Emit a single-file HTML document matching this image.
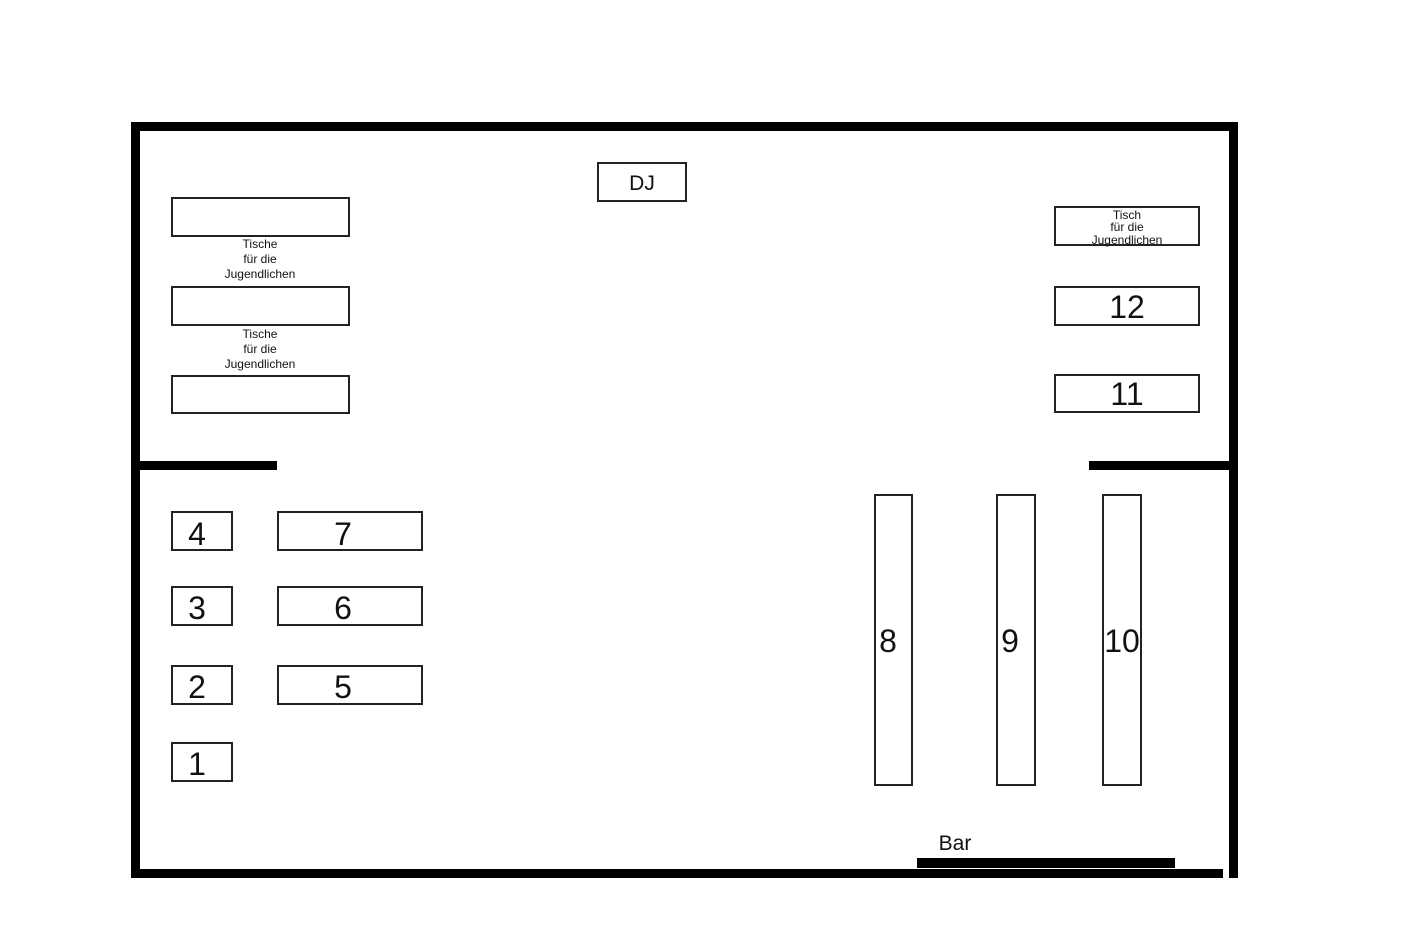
<!DOCTYPE html>
<html><head><style>body{margin:0;background:#fff}svg{display:block}</style></head><body>
<svg width="1417" height="945" viewBox="0 0 1417 945" xmlns="http://www.w3.org/2000/svg" font-family="Liberation Sans, sans-serif">
<rect width="1417" height="945" fill="#fff"/>
<g fill="#000">
<rect x="131" y="122" width="1107" height="9"/>
<rect x="131" y="122" width="9" height="756"/>
<rect x="1229" y="122" width="9" height="756"/>
<rect x="131" y="869" width="1092" height="9"/>
<rect x="917" y="858" width="258" height="10"/>
<rect x="139" y="461" width="138" height="9"/>
<rect x="1089" y="461" width="141" height="9"/>
</g>
<g fill="none" stroke="#222" stroke-width="2">
<rect x="598" y="163" width="88" height="38"/>
<rect x="172" y="198" width="177" height="38"/>
<rect x="172" y="287" width="177" height="38"/>
<rect x="172" y="376" width="177" height="37"/>
<rect x="1055" y="207" width="144" height="38"/>
<rect x="1055" y="287" width="144" height="38"/>
<rect x="1055" y="375" width="144" height="37"/>
<rect x="172" y="512" width="60" height="38"/>
<rect x="172" y="587" width="60" height="38"/>
<rect x="172" y="666" width="60" height="38"/>
<rect x="172" y="743" width="60" height="38"/>
<rect x="278" y="512" width="144" height="38"/>
<rect x="278" y="587" width="144" height="38"/>
<rect x="278" y="666" width="144" height="38"/>
<rect x="875" y="495" width="37" height="290"/>
<rect x="997" y="495" width="38" height="290"/>
<rect x="1103" y="495" width="38" height="290"/>
</g>
<g fill="#111" text-anchor="middle">
<text x="642" y="190" font-size="21">DJ</text>
<text x="955" y="850" font-size="21">Bar</text>
<g font-size="12"><text x="260" y="248">Tische</text><text x="260" y="263">für die</text><text x="260" y="278">Jugendlichen</text>
<text x="260" y="338">Tische</text><text x="260" y="353">für die</text><text x="260" y="368">Jugendlichen</text>
<text x="1127" y="219">Tisch</text><text x="1127" y="231">für die</text><text x="1127" y="244">Jugendlichen</text></g>
<g font-size="32">
<text x="1127" y="318">12</text><text x="1127" y="405">11</text>
<text x="197" y="545">4</text><text x="197" y="619">3</text><text x="197" y="698">2</text><text x="197" y="775">1</text>
<text x="343" y="545">7</text><text x="343" y="619">6</text><text x="343" y="698">5</text>
<text x="888" y="652">8</text><text x="1010" y="652">9</text><text x="1122" y="652">10</text>
</g></g>
</svg>
</body></html>
